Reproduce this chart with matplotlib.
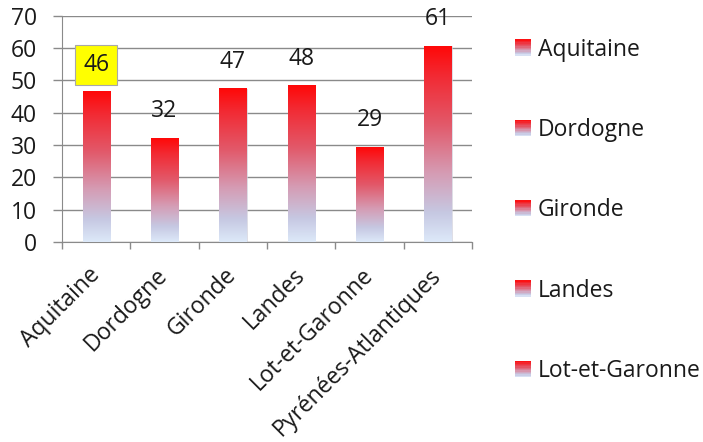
import numpy as np
import matplotlib
matplotlib.use('Agg')
import matplotlib.pyplot as plt
import matplotlib.transforms as mtransforms
from matplotlib.colors import LinearSegmentedColormap
from matplotlib.patches import Rectangle
from matplotlib.legend_handler import HandlerBase

plt.rcParams['font.family'] = ['Open Sans', 'DejaVu Sans']

# data
categories = ['Aquitaine', 'Dordogne', 'Gironde', 'Landes', 'Lot-et-Garonne',
              'Pyrénées-Atlantiques']
values = [46.4, 32.0, 47.4, 48.3, 29.3, 60.5]
shown = [46, 32, 47, 48, 29, 61]
legend_names = categories[:5]  # last entry is cut off in the original
yticks = [0, 10, 20, 30, 40, 50, 60, 70]

grad = LinearSegmentedColormap.from_list('grad', [
    (0.0, '#dde9f9'), (0.15, '#c6c8e2'), (0.35, '#d59cb4'),
    (0.6, '#e2596a'), (0.85, '#f22a33'), (1.0, '#ff0808')])
GRID = '#8a8a8a'
TXT = '#1a1a1a'
FS = 16.5


class GradHandler(HandlerBase):
    def create_artists(self, legend, orig, xd, yd, w, h, fs, trans):
        n = 12
        arts = []
        for i in range(n):
            arts.append(Rectangle((xd, yd + h * i / n), w, h / n + 0.2,
                                  fc=grad((i + 0.5) / n), ec='none', transform=trans))
        return arts


fig = plt.figure(figsize=(7.03, 4.42), dpi=100)
ax = fig.add_axes([62 / 703, 1 - 242 / 442, 410 / 703, 226.5 / 442])

x = np.arange(len(categories))
bw = 0.4
img = np.linspace(0, 1, 256).reshape(-1, 1)
for xi, v in zip(x, values):
    ax.imshow(img, cmap=grad, origin='lower', aspect='auto', interpolation='bilinear',
              extent=(xi - bw / 2, xi + bw / 2, 0, v), zorder=3)
    ax.add_patch(Rectangle((xi - bw / 2, 0), bw, v, fc='none', ec='#d0d0dc',
                           lw=0.5, zorder=2.9))

for i, (xi, v, s) in enumerate(zip(x, values, shown)):
    kw = {}
    if i == 0:
        kw['bbox'] = dict(boxstyle='square,pad=0.36', fc='#ffff00', ec='#a8a8a8', lw=0.8)
    ax.annotate(f'{s}', (xi, v), xytext=(0, 19.5), textcoords='offset points',
                ha='center', va='center', fontsize=FS, color=TXT,
                zorder=5, annotation_clip=False, **kw)

ax.set_xlim(-0.5, len(categories) - 0.5)
ax.set_ylim(0, 70)
ax.set_yticks(yticks)
ax.set_xticks(np.arange(len(categories) + 1) - 0.5)
ax.set_xticklabels([])
ax.set_xticks(x, minor=True)
ax.set_xticklabels(categories, minor=True, rotation=45, ha='right', va='center',
                   rotation_mode='anchor', fontsize=FS, color=TXT)
shift = mtransforms.ScaledTranslation(-3 / 100, 0, fig.dpi_scale_trans)
for lab in ax.get_xticklabels(minor=True):
    lab.set_transform(lab.get_transform() + shift)
ax.tick_params(axis='x', which='minor', length=0, pad=21.5)
ax.tick_params(axis='x', which='major', length=5, color=GRID, width=1)
ax.tick_params(axis='y', length=6.5, color=GRID, width=1, labelsize=FS,
               labelcolor=TXT, pad=11.5)
ax.yaxis.grid(True, color=GRID, lw=1)
ax.set_axisbelow(True)
for s in ['top', 'right']:
    ax.spines[s].set_visible(False)
for s in ['left', 'bottom']:
    ax.spines[s].set_color(GRID)

handles = [Rectangle((0, 0), 1, 1) for _ in legend_names]
fig.legend(handles, legend_names, handler_map={Rectangle: GradHandler()},
           loc='upper left', bbox_to_anchor=(494 / 703, 1 - 17 / 442),
           frameon=False, fontsize=FS, labelspacing=2.46, handlelength=0.7,
           handleheight=0.7, handletextpad=0.3, labelcolor=TXT)

fig.savefig('out.png', dpi=100)
